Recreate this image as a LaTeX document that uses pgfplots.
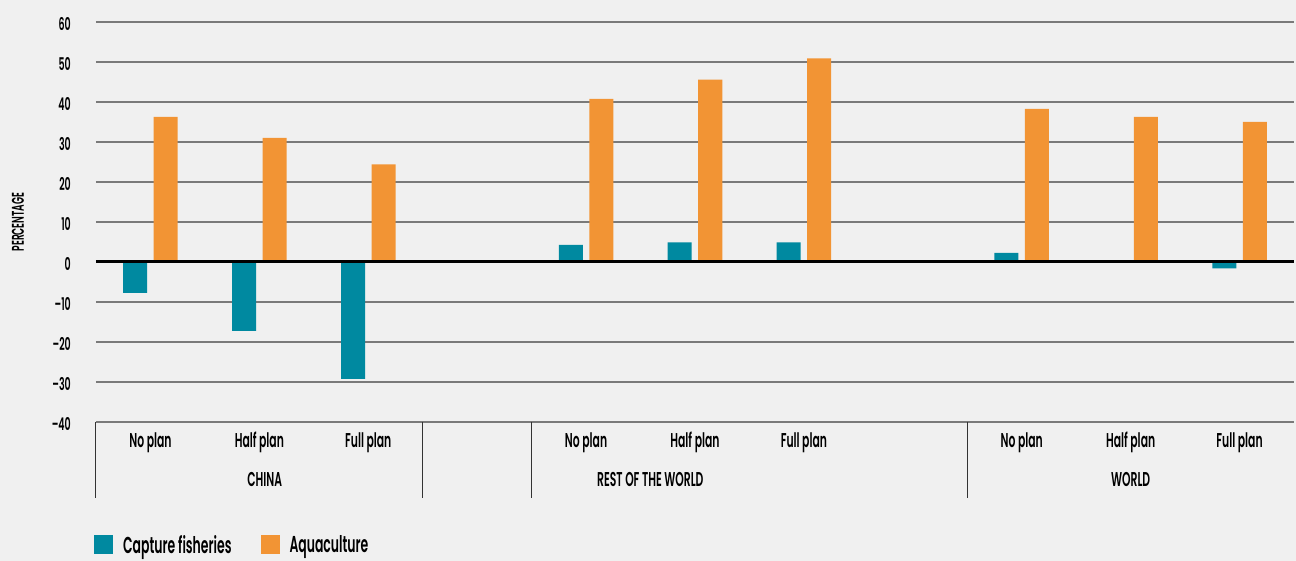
\documentclass[border=0pt]{standalone}
\usepackage{pgfplots}
\pgfplotsset{compat=1.18}
\usepackage{fontspec}
\setmainfont[FakeStretch=0.54]{Poppins SemiBold}
\definecolor{bg}{RGB}{240,240,240}
\definecolor{teal1}{RGB}{0,137,160}
\definecolor{orange1}{RGB}{242,148,52}
\definecolor{gridgray}{RGB}{122,122,122}
\begin{document}
\begin{tikzpicture}
\fill[bg] (-96pt,-139pt) rectangle (1200pt,422pt);
\useasboundingbox (-96pt,-139pt) rectangle (1200pt,422pt);
\begin{axis}[
  at={(0pt,0pt)}, anchor=south west,
  scale only axis, width=1198pt, height=400pt,
  xmin=-0.5, xmax=10.5, ymin=-40, ymax=60,
  clip=false,
  axis line style={draw=none},
  major tick length=0pt,
  ymajorgrids, grid style={line width=1.3pt, color=gridgray},
  ytick={-40,-30,-20,-10,0,10,20,30,40,50,60},
  yticklabels={--40,--30,--20,--10,0,10,20,30,40,50,60},
  yticklabel style={font=\fontsize{17.5}{20}\selectfont, anchor=east, inner sep=0pt, xshift=-25pt, yshift=-2pt},
  xtick={0,1,2,3,4,5,6,7,8,9,10},
  xticklabels={No plan,Half plan,Full plan,,No plan,Half plan,Full plan,,No plan,Half plan,Full plan},
  xticklabel style={font=\fontsize{20}{24}\selectfont, anchor=base, inner sep=0pt, yshift=-25.3pt},
  ybar=6.5pt, bar width=24pt,
  every axis y label/.style={at={(rel axis cs:0,0.5)}, xshift=-78pt, rotate=90, anchor=center, font=\fontsize{17}{20}\selectfont},
  ylabel={PERCENTAGE},
  legend columns=2,
  legend style={at={(rel axis cs:0,0)}, anchor=west, xshift=-2pt, yshift=-123pt, draw=none, fill=none, inner sep=0pt,
    font=\fontsize{23}{27}\selectfont,
    nodes={inner sep=0pt},
    /tikz/every odd column/.append style={column sep=10pt},
    /tikz/every even column/.append style={column sep=29pt}},
  legend cell align=left,
  legend image code/.code={\fill[#1] (0pt,-9.5pt) rectangle (19pt,9.5pt);},
]
\addplot[fill=teal1, draw=none] coordinates {(0,-7.7) (1,-17.2) (2,-29.2) (4,4.3) (5,4.9) (6,4.9) (8,2.3) (9,0.3) (10,-1.6)};
\addplot[fill=orange1, draw=none] coordinates {(0,36.3) (1,31.0) (2,24.4) (4,40.8) (5,45.6) (6,50.9) (8,38.3) (9,36.3) (10,35.0)};
\legend{Capture fisheries, Aquaculture}
\draw[black, line width=3pt] (axis cs:-0.5,0) -- (axis cs:10.5,0);
\draw[black!80, line width=1pt] (axis cs:-0.5,-40) -- (axis cs:-0.5,-59);
\draw[black!80, line width=1pt] (axis cs:2.5,-40) -- (axis cs:2.5,-59);
\draw[black!80, line width=1pt] (axis cs:3.5,-40) -- (axis cs:3.5,-59);
\draw[black!80, line width=1pt] (axis cs:7.5,-40) -- (axis cs:7.5,-59);
\node[anchor=base, inner sep=0pt, font=\fontsize{20}{24}\selectfont] at (axis cs:1.05,-56.2) {CHINA};
\node[anchor=base, inner sep=0pt, font=\fontsize{20}{24}\selectfont] at (axis cs:4.59,-56.2) {REST OF THE WORLD};
\node[anchor=base, inner sep=0pt, font=\fontsize{20}{24}\selectfont] at (axis cs:9.0,-56.2) {WORLD};
\end{axis}
\end{tikzpicture}
\end{document}
